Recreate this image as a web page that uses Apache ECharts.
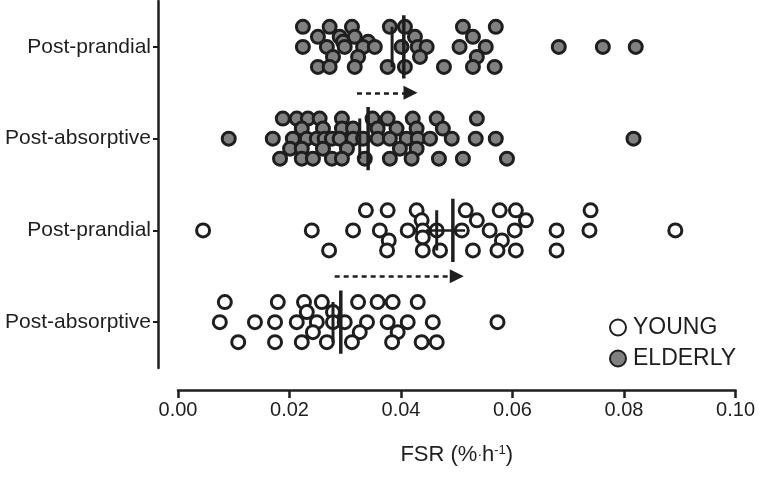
<!DOCTYPE html>
<html>
<head>
    <meta charset="utf-8">
    <title>FSR</title>
    <script src="https://cdn.jsdelivr.net/npm/echarts@6.0.0/dist/echarts.min.js"></script>
</head>
<body style="margin:0">
    <div id="main" style="width: 758px;height:483px;"></div>
    <script type="text/javascript">
        // rows from bottom to top
        var categories = ['Post-absorptive', 'Post-prandial', 'Post-absorptive', 'Post-prandial'];

        // FSR values, lane = vertical slot in the swarm (-2 top ... 2 bottom)
        var youngAbsVals = [0.0084, 0.0179, 0.0226, 0.0258, 0.0323, 0.0358, 0.0385, 0.0430,
            0.0231, 0.0278,
            0.0075, 0.0138, 0.0174, 0.0213, 0.0249, 0.0278, 0.0299, 0.0339, 0.0376, 0.0412, 0.0457, 0.0573,
            0.0242, 0.0326, 0.0394,
            0.0108, 0.0174, 0.0222, 0.0267, 0.0312, 0.0384, 0.0437, 0.0464];
        var youngAbsLanes = [-2, -2, -2, -2, -2, -2, -2, -2,
            -1, -1,
            0, 0, 0, 0, 0, 0, 0, 0, 0, 0, 0, 0,
            1, 1, 1,
            2, 2, 2, 2, 2, 2, 2, 2];

        var youngPostVals = [0.0337, 0.0376, 0.0428, 0.0516, 0.0577, 0.0606, 0.0740,
            0.0437, 0.0536, 0.0624,
            0.0045, 0.0240, 0.0314, 0.0362, 0.0412, 0.0439, 0.0464, 0.0509, 0.0559, 0.0604, 0.0679, 0.0738, 0.0892,
            0.0378, 0.0439, 0.0581,
            0.0271, 0.0375, 0.0439, 0.0470, 0.0529, 0.0573, 0.0606, 0.0679];
        var youngPostLanes = [-2, -2, -2, -2, -2, -2, -2,
            -1, -1, -1,
            0, 0, 0, 0, 0, 0, 0, 0, 0, 0, 0, 0, 0,
            1, 0.7, 1,
            2, 2, 2, 2, 2, 2, 2, 2];

        var elderlyAbsVals = [0.0188, 0.0213, 0.0233, 0.0254, 0.0294, 0.0349, 0.0376, 0.0421, 0.0464, 0.0536,
            0.0222, 0.0260, 0.0294, 0.0314, 0.0358, 0.0392, 0.0428, 0.0475,
            0.0091, 0.0170, 0.0206, 0.0231, 0.0249, 0.0263, 0.0276, 0.0290, 0.0314, 0.0332,
            0.0358, 0.0380, 0.0410, 0.0430, 0.0452, 0.0491, 0.0534, 0.0570, 0.0817,
            0.0201, 0.0222, 0.0260, 0.0303, 0.0398, 0.0428,
            0.0183, 0.0222, 0.0242, 0.0276, 0.0294, 0.0335, 0.0380, 0.0419, 0.0468, 0.0511, 0.0590];
        var elderlyAbsLanes = [-2, -2, -2, -2, -2, -2, -2, -2, -2, -2,
            -1, -1, -1, -1, -1, -1, -1, -1,
            0, 0, 0, 0, 0, 0, 0, 0, 0, 0,
            0, 0, 0, 0, 0, 0, 0, 0, 0,
            1, 1, 1, 1, 1, 1,
            2, 2, 2, 2, 2, 2, 2, 2, 2, 2, 2];

        var elderlyPostVals = [0.0224, 0.0272, 0.0312, 0.0380, 0.0407, 0.0511, 0.0570,
            0.0251, 0.0290, 0.0317, 0.0425, 0.0529,
            0.0296, 0.0341,
            0.0224, 0.0267, 0.0299, 0.0332, 0.0353, 0.0401, 0.0430, 0.0446, 0.0505, 0.0552, 0.0683, 0.0762, 0.0821,
            0.0278, 0.0323, 0.0434, 0.0536,
            0.0251, 0.0272, 0.0317, 0.0376, 0.0407, 0.0477, 0.0529, 0.0568];
        var elderlyPostLanes = [-2, -2, -2, -2, -2, -2, -2,
            -1, -1, -1, -1, -1,
            -0.5, -0.5,
            0, 0, 0, 0, 0, 0, 0, 0, 0, 0, 0, 0, 0,
            1, 1, 1, 1,
            2, 2, 2, 2, 2, 2, 2, 2];

        // long line and short line per row (bottom to top)
        var meanVals = [0.0292, 0.0493, 0.0341, 0.0405];
        var medianVals = [0.0278, 0.0464, 0.0326, 0.0384];
        var yPostBar = [0.0445, 0.0515];

        // dashed arrows: [from, to, row position]
        var arrows = [[0.0281, 0.0500, 0.5], [0.0321, 0.0417, 2.5]];

        var xTicks = ['0.00', '0.02', '0.04', '0.06', '0.08', '0.10'];

        var laneStep = 0.109;
        var ink = '#1e1e1e';
        var font = 'Liberation Sans, Arial, sans-serif';

        function points(vals, lanes, row) {
            return vals.map(function (v, i) { return [v, row - lanes[i] * laneStep]; });
        }

        var series = [
            {
                name: 'YOUNG', type: 'scatter', symbol: 'circle', symbolSize: 13,
                itemStyle: { color: '#ffffff', borderColor: ink, borderWidth: 3, opacity: 1 },
                data: points(youngAbsVals, youngAbsLanes, 0).concat(points(youngPostVals, youngPostLanes, 1)),
                z: 2
            },
            {
                name: 'ELDERLY', type: 'scatter', symbol: 'circle', symbolSize: 13,
                itemStyle: { color: '#808080', borderColor: ink, borderWidth: 3, opacity: 1 },
                data: points(elderlyAbsVals, elderlyAbsLanes, 2).concat(points(elderlyPostVals, elderlyPostLanes, 3)),
                z: 2
            }
        ];

        meanVals.forEach(function (m, row) {
            series.push({
                type: 'line', symbol: 'none', silent: true, z: 5,
                lineStyle: { color: ink, width: 3.5 },
                data: [[m, row - 0.345], [m, row + 0.345]]
            });
            series.push({
                type: 'line', symbol: 'none', silent: true, z: 5,
                lineStyle: { color: ink, width: 3 },
                data: [[medianVals[row], row - 0.22], [medianVals[row], row + 0.22]]
            });
        });
        series.push({
            type: 'line', symbol: 'none', silent: true, z: 5,
            lineStyle: { color: ink, width: 2.5 },
            data: [[yPostBar[0], 1], [yPostBar[1], 1]]
        });

        series.push({
            type: 'lines', coordinateSystem: 'cartesian2d', silent: true, z: 5,
            symbol: ['none', 'triangle'], symbolSize: [13, 14],
            lineStyle: { color: ink, width: 2.5, type: [5, 4], opacity: 1 },
            data: arrows.map(function (a) { return { coords: [[a[0], a[2]], [a[1], a[2]]] }; })
        });

        var myChart = echarts.init(document.getElementById('main'));
        var option = {
            animation: false,
            backgroundColor: '#ffffff',
            grid: { left: 178, right: 22, top: 1, bottom: 115 },
            legend: {
                data: ['YOUNG', 'ELDERLY'],
                orient: 'vertical', left: 604, top: 311,
                icon: 'circle', itemWidth: 16, itemHeight: 16, itemGap: 8,
                textStyle: { fontFamily: font, fontSize: 23, color: ink, padding: [0, 0, 0, 2] }
            },
            xAxis: {
                type: 'value', min: 0, max: 0.1, interval: 0.02, offset: 22,
                name: 'FSR (%{dot|·}h{sup|-1})',
                nameLocation: 'middle', nameGap: 54,
                nameTextStyle: {
                    fontFamily: font, fontSize: 22, color: ink,
                    rich: {
                        dot: { fontSize: 14, color: ink, fontFamily: font, verticalAlign: 'middle' },
                        sup: { fontSize: 13, color: ink, fontFamily: font, verticalAlign: 'top', lineHeight: 14 }
                    }
                },
                axisLine: { show: true, onZero: false, lineStyle: { color: ink, width: 2.5 } },
                axisTick: { show: true, length: 8, lineStyle: { color: ink, width: 2.5 } },
                axisLabel: {
                    fontFamily: font, fontSize: 20, color: ink, margin: 10,
                    formatter: function (v) { return xTicks[Math.round(v / 0.02)]; }
                },
                splitLine: { show: false }
            },
            yAxis: {
                type: 'value', min: -0.5, max: 3.5, offset: 20,
                axisLine: { show: true, onZero: false, lineStyle: { color: ink, width: 2.5 } },
                axisTick: { show: true, length: 5, customValues: [0, 1, 2, 3], lineStyle: { color: ink, width: 2 } },
                axisLabel: {
                    fontFamily: font, fontSize: 21, color: ink, margin: 7,
                    customValues: [0, 1, 2, 3],
                    formatter: function (v) { return categories[Math.round(v)]; }
                },
                splitLine: { show: false }
            },
            series: series
        };
        myChart.setOption(option);
    </script>
</body>
</html>
